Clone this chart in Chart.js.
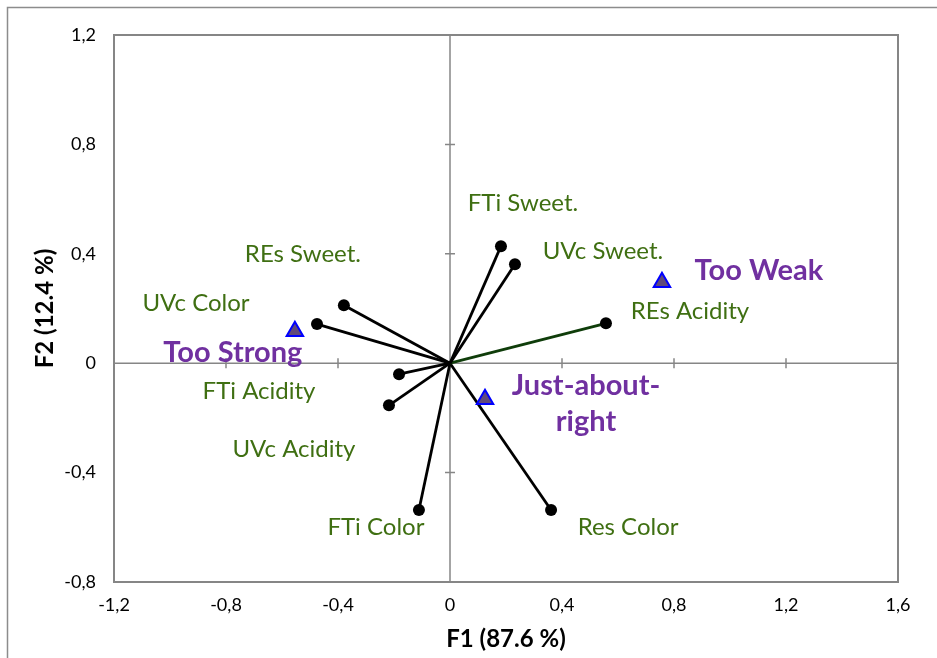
<!DOCTYPE html>
<html>
<head>
<meta charset="utf-8">
<script src="https://cdn.jsdelivr.net/npm/chart.js@4.4.1/dist/chart.umd.min.js"></script>
<style>
  html, body { margin: 0; padding: 0; background: #ffffff; }
  #wrap { width: 937px; height: 658px; position: relative; }
</style>
</head>
<body>
<div id="wrap"><canvas id="c" width="937" height="658"></canvas></div>
<script>
// ---- Data ----
const variableNames = ["FTi Sweet.", "UVc Sweet.", "REs Acidity", "Res Color", "FTi Color", "UVc Acidity", "FTi Acidity", "REs Sweet.", "UVc Color"];
const variableF1 = [0.182, 0.232, 0.557, 0.361, -0.111, -0.218, -0.182, -0.379, -0.475];
const variableF2 = [0.428, 0.362, 0.146, -0.537, -0.537, -0.154, -0.040, 0.212, 0.143];

const groupNames = [["Too Strong"], ["Too Weak"], ["Just-about-", "right"]];
const groupF1 = [-0.554, 0.757, 0.125];
const groupF2 = [0.117, 0.296, -0.132];

const xTickValues = [-1.2, -0.8, -0.4, 0, 0.4, 0.8, 1.2, 1.6];
const yTickValues = [-0.8, -0.4, 0, 0.4, 0.8, 1.2];
const xTitle = "F1 (87.6 %)";
const yTitle = "F2 (12.4 %)";

// ---- Label placement (pixel offsets from each mark) ----
const variableLabelOffsets = [[22,-43],[88,-13],[84,-12],[77,17],[-43,17],[-95,44],[-140,17],[-41,-51],[-121,-21]];
const groupLabelOffsets = [[-62,21],[97,-12],[101,4]];

// ---- Styles ----
const GREEN = "#3f6f12";
const PURPLE = "#7030a0";
const AXIS_GRAY = "#868686";
const FONT = "Lato, 'Open Sans', sans-serif";

function fmt(v) {
  if (Math.abs(v) < 1e-9) return "0";
  return v.toFixed(1).replace(".", ",");
}

const datasets = [];
variableNames.forEach((name, i) => {
  const col = name === "REs Acidity" ? "#0f3d0a" : "#000000";
  datasets.push({
    type: "line",
    label: name,
    data: [{x: 0, y: 0}, {x: variableF1[i], y: variableF2[i]}],
    borderColor: col,
    borderWidth: 2.8,
    pointRadius: [0, 6],
    pointBackgroundColor: "#000000",
    pointBorderColor: "#000000",
    pointBorderWidth: 0,
    showLine: true,
    fill: false,
    tension: 0,
    order: 2
  });
});
datasets.push({
  type: "scatter",
  label: "groups",
  data: groupF1.map((x, i) => ({x: x, y: groupF2[i]})),
  pointStyle: "triangle",
  pointRadius: 9.5,
  backgroundColor: "#60497a",
  borderColor: "#0000ff",
  borderWidth: 2,
  order: 1
});

const framePlugin = {
  id: "framePlugin",
  beforeDatasetsDraw(chart) {
    const ctx = chart.ctx;
    const xs = chart.scales.x, ys = chart.scales.y;
    const a = chart.chartArea;
    ctx.save();
    // outer frame
    ctx.strokeStyle = "#8c8c8c";
    ctx.lineWidth = 1.5;
    ctx.strokeRect(7.5, 7.5, 1200, 1200);
    // plot area border
    ctx.strokeStyle = AXIS_GRAY;
    ctx.lineWidth = 2;
    ctx.strokeRect(a.left, a.top, a.right - a.left, a.bottom - a.top);
    // zero axes
    const x0 = xs.getPixelForValue(0), y0 = ys.getPixelForValue(0);
    ctx.lineWidth = 1.5;
    ctx.beginPath();
    ctx.moveTo(x0, a.top); ctx.lineTo(x0, a.bottom);
    ctx.moveTo(a.left, y0); ctx.lineTo(a.right, y0);
    // cross ticks
    xTickValues.forEach(v => {
      const px = xs.getPixelForValue(v);
      ctx.moveTo(px, y0 - 5); ctx.lineTo(px, y0 + 5);
    });
    yTickValues.forEach(v => {
      const py = ys.getPixelForValue(v);
      ctx.moveTo(x0 - 5, py); ctx.lineTo(x0 + 5, py);
    });
    ctx.stroke();
    ctx.restore();
  },
  afterDatasetsDraw(chart) {
    const ctx = chart.ctx;
    const xs = chart.scales.x, ys = chart.scales.y;
    ctx.save();
    ctx.textAlign = "center";
    ctx.textBaseline = "middle";
    ctx.fillStyle = GREEN;
    ctx.font = "24px " + FONT;
    variableNames.forEach((name, i) => {
      const px = xs.getPixelForValue(variableF1[i]) + variableLabelOffsets[i][0];
      const py = ys.getPixelForValue(variableF2[i]) + variableLabelOffsets[i][1];
      ctx.fillText(name, px, py);
    });
    ctx.fillStyle = PURPLE;
    ctx.font = "bold 29px " + FONT;
    groupNames.forEach((lines, i) => {
      const px = xs.getPixelForValue(groupF1[i]) + groupLabelOffsets[i][0];
      const py = ys.getPixelForValue(groupF2[i]) + groupLabelOffsets[i][1];
      const lh = 36;
      lines.forEach((t, k) => {
        ctx.fillText(t, px, py + (k - (lines.length - 1) / 2) * lh);
      });
    });
    ctx.restore();
  }
};

new Chart(document.getElementById("c"), {
  data: { datasets: datasets },
  options: {
    responsive: false,
    animation: false,
    layout: { padding: { top: 35, right: 39, left: 0, bottom: 0 } },
    plugins: { legend: { display: false }, tooltip: { enabled: false } },
    scales: {
      x: {
        type: "linear",
        min: -1.2, max: 1.6,
        afterBuildTicks: s => { s.ticks = xTickValues.map(v => ({value: v})); },
        afterFit: s => { s.height = 76; },
        grid: { display: false, drawTicks: false },
        border: { display: false },
        ticks: { padding: 12, color: "#000", font: { family: FONT, size: 18 }, callback: v => fmt(v), maxRotation: 0 },
        title: { display: true, text: xTitle, color: "#000", font: { family: FONT, size: 24, weight: "bold" }, padding: { top: 0, bottom: 4 } }
      },
      y: {
        type: "linear",
        min: -0.8, max: 1.2,
        afterBuildTicks: s => { s.ticks = yTickValues.map(v => ({value: v})); },
        afterFit: s => { s.width = 114; },
        grid: { display: false, drawTicks: false },
        border: { display: false },
        ticks: { padding: 18, color: "#000", font: { family: FONT, size: 18 }, callback: v => fmt(v) },
        title: { display: true, text: yTitle, color: "#000", font: { family: FONT, size: 24, weight: "bold" }, padding: { top: 31, bottom: 0 } }
      }
    }
  },
  plugins: [framePlugin]
});
</script>
</body>
</html>
